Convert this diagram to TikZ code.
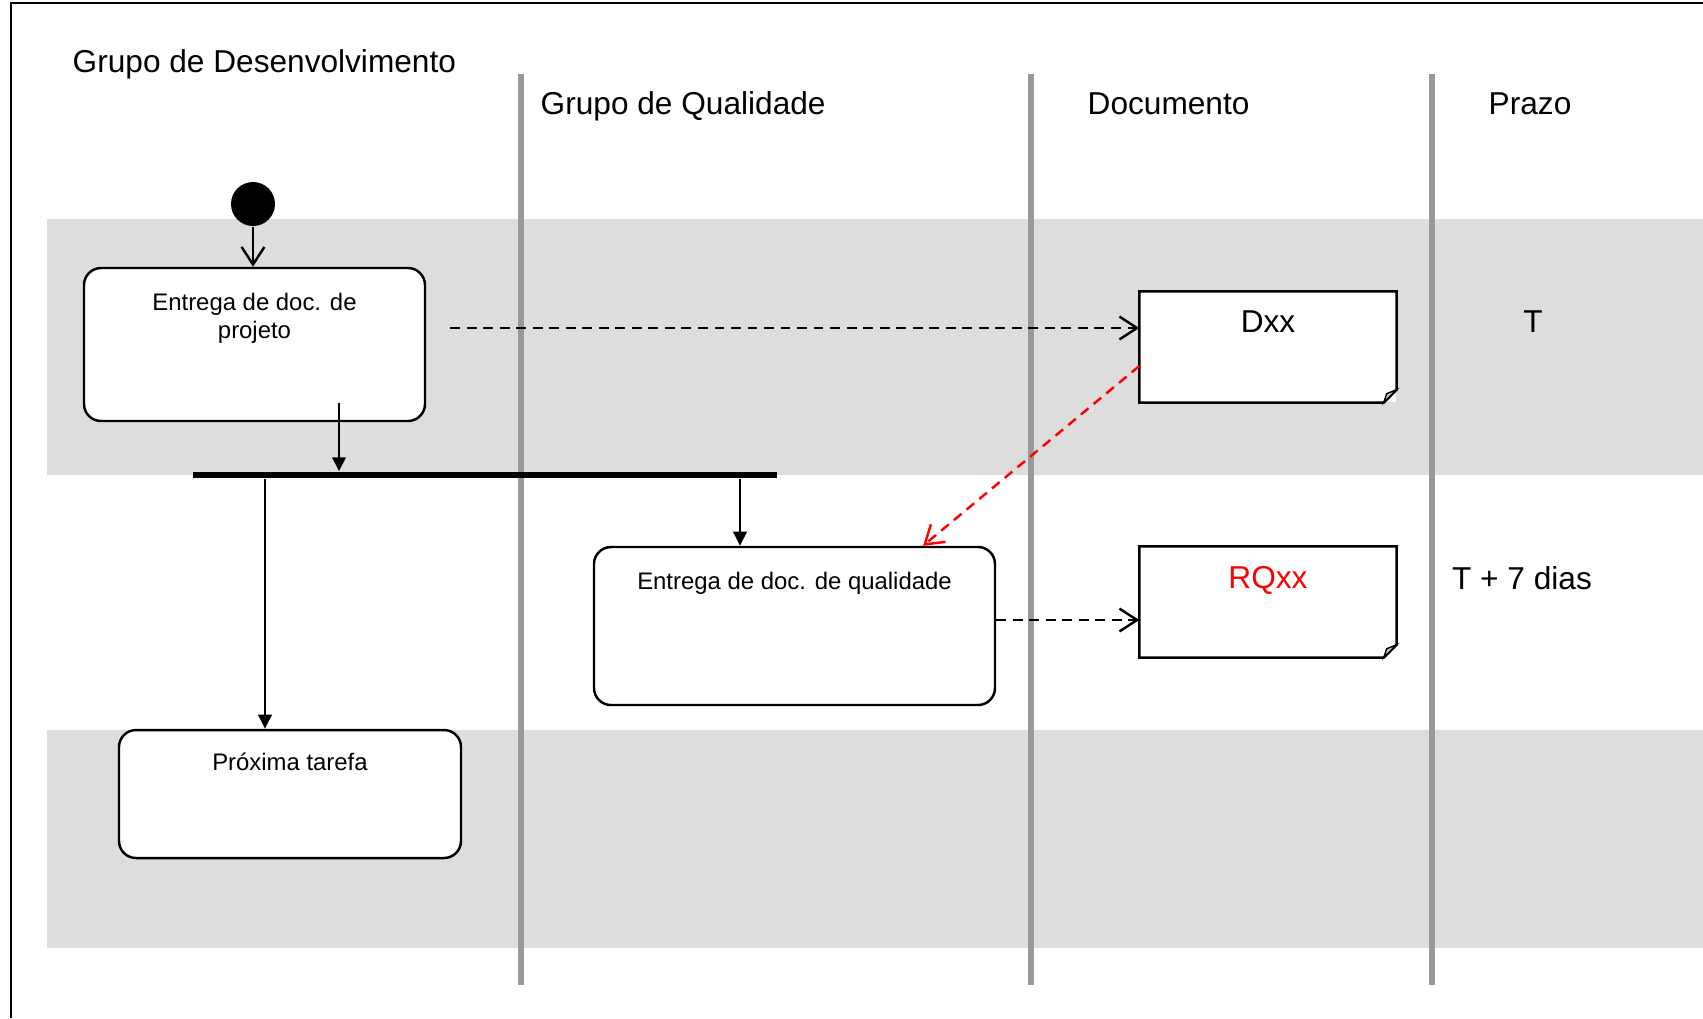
\documentclass[tikz,border=0pt]{standalone}
\usepackage{fontspec}
\setmainfont{Liberation Sans}
\usetikzlibrary{calc}
\usetikzlibrary{arrows.meta}
\usetikzlibrary{positioning}
\definecolor{lanegray}{HTML}{999999}
\definecolor{bandgray}{HTML}{DDDDDD}
\definecolor{foldgray}{HTML}{C8C8C8}
\tikzstyle{band}=[fill=bandgray, draw=none]
\tikzstyle{lane}=[draw=lanegray, line width=1.8pt]
\tikzstyle{title}=[anchor=base west, inner sep=0pt, font=\fontsize{9}{11}\selectfont]
\tikzstyle{deadline}=[inner sep=0pt, font=\fontsize{9}{11}\selectfont]
\tikzstyle{activity}=[draw, fill=white, line width=.7pt, rounded corners=1.7mm, inner sep=0pt]
\tikzstyle{acttext}=[anchor=north, inner sep=0pt, yshift=-2.6mm, align=center, font=\fontsize{6.8}{8}\selectfont]
\tikzstyle{note}=[fill=white, inner sep=0pt, minimum width=2.56cm, minimum height=1.1cm]
\tikzstyle{notetext}=[anchor=north, inner sep=0pt, yshift=-1.9mm, font=\fontsize{9}{11}\selectfont]
\tikzstyle{flow}=[-{Straight Barb[length=5pt, width=6.5pt]}, line width=.7pt]
\tikzstyle{dflow}=[flow, dash pattern=on 2.8pt off 1.9pt]
\tikzstyle{sync}=[-{Triangle[length=4pt, width=3.8pt]}, line width=.7pt]

\begin{document}
\begin{tikzpicture}
    \useasboundingbox (0,0) rectangle (17.03,-10.18);

    % faixas e moldura
    \fill[band] (0.47,-2.19) rectangle (17.03,-4.75);
    \fill[band] (0.47,-7.30) rectangle (17.03,-9.48);
    \draw[line width=.8pt] (0.11,-10.18) -- (0.11,-0.03) -- (17.03,-0.03);

    % raias
    \draw[lane] (5.21,-0.74) -- (5.21,-9.85);
    \draw[lane] (10.31,-0.74) -- (10.31,-9.85);
    \draw[lane] (14.32,-0.74) -- (14.32,-9.85);

    \node[title] (dev) at (0.72,-0.72) {Grupo de Desenvolvimento};
    \node[title] (qual) at (5.40,-1.14) {Grupo de Qualidade};
    \node[title] (docs) at (10.87,-1.14) {Documento};
    \node[title] (prazo) at (14.88,-1.14) {Prazo};

    % atividades
    \node[circle, fill=black, minimum size=0.44cm, inner sep=0pt] (start) at (2.53,-2.04) {};
    \node[activity, minimum width=3.41cm, minimum height=1.53cm, label={[acttext]north:Entrega de doc. de\\projeto}] (entproj) at (2.545,-3.445) {};
    \node[activity, minimum width=4.01cm, minimum height=1.58cm, label={[acttext]north:Entrega de doc. de qualidade}] (entqual) at (7.945,-6.26) {};
    \node[activity, minimum width=3.42cm, minimum height=1.28cm, label={[acttext, yshift=0.3mm]north:Próxima tarefa}] (prox) at (2.90,-7.94) {};
    \node[fill=black, minimum width=5.84cm, minimum height=0.06cm, inner sep=0pt] (fork) at (4.85,-4.75) {};

    % documentos
    \node[note, label={[notetext]north:Dxx}] (dxx) at (12.68,-3.47) {};
    \node[note, label={[notetext, text=red]north:RQxx}] (rqxx) at (12.68,-6.02) {};
    \foreach \n in {dxx, rqxx} {
        \draw[line width=.7pt] (\n.north west) -- (\n.north east) -- ([yshift=1.3mm]\n.south east) -- ([xshift=-1.3mm]\n.south east) -- (\n.south west) -- cycle;
        \filldraw[fill=foldgray, line width=.4pt] ([xshift=-1.3mm]\n.south east) -- ([xshift=-1mm, yshift=.9mm]\n.south east) -- ([yshift=1.3mm]\n.south east) -- cycle;
    }

    \node[deadline] (t0) at (15.33,-3.22) {T};
    \node[deadline] (t7) at (15.22,-5.78) {T + 7 dias};

    % ligacoes
    \coordinate (projout) at ([xshift=8.45mm, yshift=1.9mm]entproj.south);
    \coordinate (proxin) at ([xshift=-2.5mm]prox.north);
    \coordinate (qualin) at ([xshift=-5.45mm]entqual.north);
    \coordinate (projdoc) at ([yshift=1.65mm]entproj.east);
    \coordinate (qualdoc) at ([yshift=.6mm]entqual.east);

    \draw[flow] (start) -- (start |- entproj.north);
    \draw[sync] (projout) -- (projout |- fork.north);
    \draw[sync] (proxin |- fork.south) -- (proxin);
    \draw[sync] (qualin |- fork.south) -- (qualin);
    \draw[dflow, shorten <=2.4mm] (projdoc) -- (projdoc -| dxx.west);
    \draw[dflow] (qualdoc) -- (qualdoc -| rqxx.west);
    \draw[dflow, red] ([yshift=-1.9mm]dxx.west) -- ([xshift=12.85mm]entqual.north);

\end{tikzpicture}
\end{document}
